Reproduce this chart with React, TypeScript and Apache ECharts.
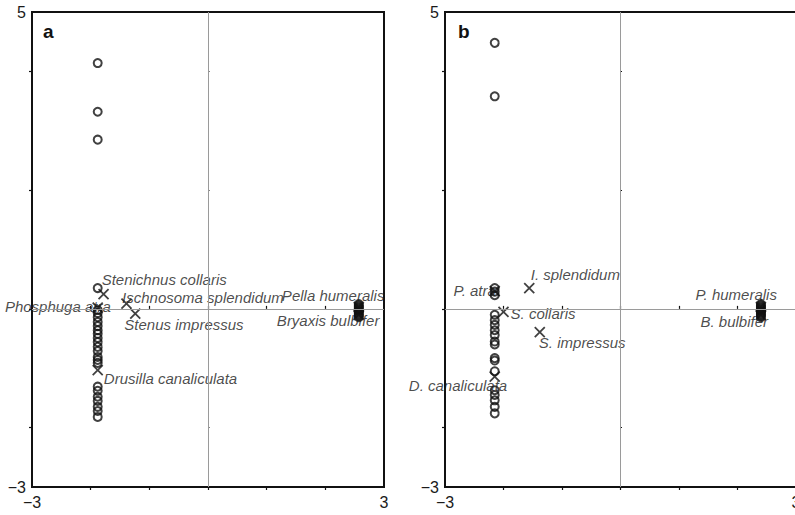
import React, { useEffect, useRef } from "react";
import * as echarts from "echarts";

// ---------- data ----------
// Panel a: sites (open circles)
const sitesA: [number, number][] = [
  [-1.88, 4.14], [-1.88, 3.32], [-1.88, 2.85], [-1.88, 0.35],
  [-1.88, -0.02], [-1.88, -0.07], [-1.88, -0.14], [-1.88, -0.22], [-1.88, -0.29],
  [-1.88, -0.36], [-1.88, -0.42], [-1.88, -0.49], [-1.88, -0.56], [-1.88, -0.64],
  [-1.88, -0.71], [-1.88, -0.81], [-1.88, -0.86], [-1.88, -0.91],
  [-1.88, -1.31], [-1.88, -1.38], [-1.88, -1.48], [-1.88, -1.55], [-1.88, -1.65],
  [-1.88, -1.72], [-1.88, -1.82],
  [2.57, 0.08], [2.57, 0.06], [2.57, 0.04], [2.57, 0.02], [2.57, 0.0], [2.57, -0.02],
  [2.57, -0.04], [2.57, -0.06], [2.57, -0.08], [2.57, -0.1], [2.57, -0.12], [2.57, -0.14],
];
// Panel a: species (crosses)
const speciesA = ["Stenichnus collaris", "Ischnosoma splendidum", "Stenus impressus", "Phosphuga atra", "Drusilla canaliculata", "Pella humeralis", "Bryaxis bulbifer"];
const speciesAX = [-1.78, -1.39, -1.24, -1.88, -1.88, 2.57, 2.57];
const speciesAY = [0.25, 0.09, -0.08, 0.02, -1.03, 0.03, -0.1];

// Panel b: sites (open circles)
const sitesB: [number, number][] = [
  [-2.15, 4.48], [-2.15, 3.58], [-2.15, 0.35], [-2.15, 0.29], [-2.15, 0.23],
  [-2.15, -0.1], [-2.15, -0.19], [-2.15, -0.27], [-2.15, -0.36], [-2.15, -0.44],
  [-2.15, -0.55], [-2.15, -0.6], [-2.15, -0.83], [-2.15, -0.87], [-2.15, -1.05],
  [-2.15, -1.37], [-2.15, -1.45], [-2.15, -1.54], [-2.15, -1.65], [-2.15, -1.76],
  [2.4, 0.08], [2.4, 0.06], [2.4, 0.04], [2.4, 0.02], [2.4, 0.0], [2.4, -0.02],
  [2.4, -0.04], [2.4, -0.06], [2.4, -0.08], [2.4, -0.1], [2.4, -0.12], [2.4, -0.14],
];
// Panel b: species (crosses)
const speciesB = ["I. splendidum", "P. atra", "S. collaris", "S. impressus", "D. canaliculata", "P. humeralis", "B. bulbifer"];
const speciesBX = [-1.56, -2.15, -2.0, -1.38, -2.15, 2.4, 2.4];
const speciesBY = [0.35, 0.3, -0.05, -0.39, -1.14, 0.03, -0.1];

// Axis ticks and labels
const xTickValues = [-2, -1, 0, 1, 2];
const xLabelValues = [-3, 3];
const yTickValues = [-2, 0, 2, 4];
const yLabelValues = [-3, 5];

// ---------- styling / layout ----------
const FONT = "'Liberation Sans', Arial, Helvetica, sans-serif";
const CROSS = "path://M0,0L10,10M0,10L10,0";
const CROSS_SIZE = 10;

// label offsets (px) relative to the marker: [dx, dy, align]
const labelLayoutA: Record<string, [number, number, string]> = {
  "Stenichnus collaris": [-1, -14, "left"],
  "Ischnosoma splendidum": [-3.5, -5.5, "left"],
  "Stenus impressus": [-10, 11.5, "left"],
  "Phosphuga atra": [14, 0, "right"],
  "Drusilla canaliculata": [7, 9, "left"],
  "Pella humeralis": [-76, -11, "left"],
  "Bryaxis bulbifer": [-81, 7, "left"],
};
const labelLayoutB: Record<string, [number, number, string]> = {
  "I. splendidum": [2.4, -13, "left"],
  "P. atra": [2, 0, "right"],
  "S. collaris": [8, 3, "left"],
  "S. impressus": [0, 11, "left"],
  "D. canaliculata": [-85, 10, "left"],
  "P. humeralis": [-64.5, -12, "left"],
  "B. bulbifer": [-59.5, 8, "left"],
};

const minusFmt = (v: number) => (v < 0 ? "\u2212" + Math.abs(v) : String(v));

function makeAxes(gridIndex: number) {
  const common = { gridIndex, type: "value" as const, splitLine: { show: false } };
  const xMain = {
    ...common, min: -3, max: 3, position: "bottom",
    axisLine: { show: true, onZero: false, lineStyle: { color: "#111", width: 2 } },
    axisTick: { show: true, customValues: xTickValues, length: 3, inside: false, lineStyle: { color: "#111", width: 1.2 } },
    axisLabel: { show: true, customValues: xLabelValues, formatter: minusFmt, fontSize: 16, color: "#1a1a1a", fontFamily: FONT, margin: 7 },
  };
  const xInner = {
    ...common, min: -3, max: 3, position: "bottom",
    axisLine: { show: false },
    axisTick: { show: true, customValues: xTickValues, length: 3, inside: true, lineStyle: { color: "#111", width: 1.2 } },
    axisLabel: { show: false },
  };
  const yMain = {
    ...common, min: -3, max: 5, position: "left",
    axisLine: { show: true, onZero: false, lineStyle: { color: "#111", width: 2 } },
    axisTick: { show: true, customValues: yTickValues, length: 3, inside: false, lineStyle: { color: "#111", width: 1.2 } },
    axisLabel: { show: true, customValues: yLabelValues, formatter: minusFmt, fontSize: 16, color: "#1a1a1a", fontFamily: FONT, margin: 6 },
  };
  const yInner = {
    ...common, min: -3, max: 5, position: "left",
    axisLine: { show: false },
    axisTick: { show: true, customValues: yTickValues, length: 1.5, inside: true, lineStyle: { color: "#111", width: 1.2 } },
    axisLabel: { show: false },
  };
  return { x: [xMain, xInner], y: [yMain, yInner] };
}

function sitesSeries(data: [number, number][], axisIdx: number) {
  return {
    type: "scatter",
    xAxisIndex: axisIdx,
    yAxisIndex: axisIdx,
    data,
    symbol: "circle",
    symbolSize: 8,
    silent: true,
    itemStyle: { color: "rgba(0,0,0,0)", borderColor: "#111", borderWidth: 2 },
    markLine: {
      silent: true,
      symbol: ["none", "none"],
      label: { show: false },
      lineStyle: { color: "#9a9a9a", width: 1, type: "solid" },
      data: [{ xAxis: 0 }, { yAxis: 0 }],
    },
    z: 2,
  };
}

function speciesSeries(names: string[], xs: number[], ys: number[], layout: Record<string, [number, number, string]>, axisIdx: number) {
  return {
    type: "scatter",
    xAxisIndex: axisIdx,
    yAxisIndex: axisIdx,
    symbol: CROSS,
    symbolSize: CROSS_SIZE,
    silent: true,
    itemStyle: { color: "#111", borderColor: "#111", borderWidth: 1.8 },
    z: 3,
    data: names.map((n, i) => {
      const [dx, dy, align] = layout[n];
      return {
        name: n,
        value: [xs[i], ys[i]],
        label: {
          show: true,
          formatter: n,
          position: [CROSS_SIZE / 2 + dx, CROSS_SIZE / 2 + dy],
          align,
          verticalAlign: "middle",
          fontSize: 15,
          fontStyle: "italic",
          fontFamily: FONT,
          color: "#1c1c1c",
        },
      };
    }),
  };
}

const axesA = makeAxes(0);
const axesB = makeAxes(1);

const option = {
  animation: false,
  backgroundColor: "#fff",
  grid: [
    { left: 32, top: 12, width: 352, height: 475, show: true, borderColor: "#111", borderWidth: 2, backgroundColor: "transparent", containLabel: false, outerBoundsMode: "none" },
    { left: 445, top: 12, width: 351, height: 475, show: true, borderColor: "#111", borderWidth: 2, backgroundColor: "transparent", containLabel: false, outerBoundsMode: "none" },
  ],
  xAxis: [...axesA.x, ...axesB.x],
  yAxis: [...axesA.y, ...axesB.y],
  series: [
    sitesSeries(sitesA, 0),
    speciesSeries(speciesA, speciesAX, speciesAY, labelLayoutA, 0),
    sitesSeries(sitesB, 2),
    speciesSeries(speciesB, speciesBX, speciesBY, labelLayoutB, 2),
  ],
  graphic: [
    { type: "text", left: 43, top: 22, style: { text: "a", font: "bold 19px " + FONT, fill: "#111" } },
    { type: "text", left: 458, top: 22, style: { text: "b", font: "bold 19px " + FONT, fill: "#111" } },
  ],
};

export default function App() {
  const ref = useRef<HTMLDivElement>(null);
  useEffect(() => {
    document.body.style.margin = "0";
    const chart = echarts.init(ref.current as HTMLDivElement, null, { renderer: "svg" });
    chart.setOption(option as any);
    return () => chart.dispose();
  }, []);
  return <div ref={ref} style={{ width: 795, height: 515, position: "absolute", left: 0, top: 0 }} />;
}
